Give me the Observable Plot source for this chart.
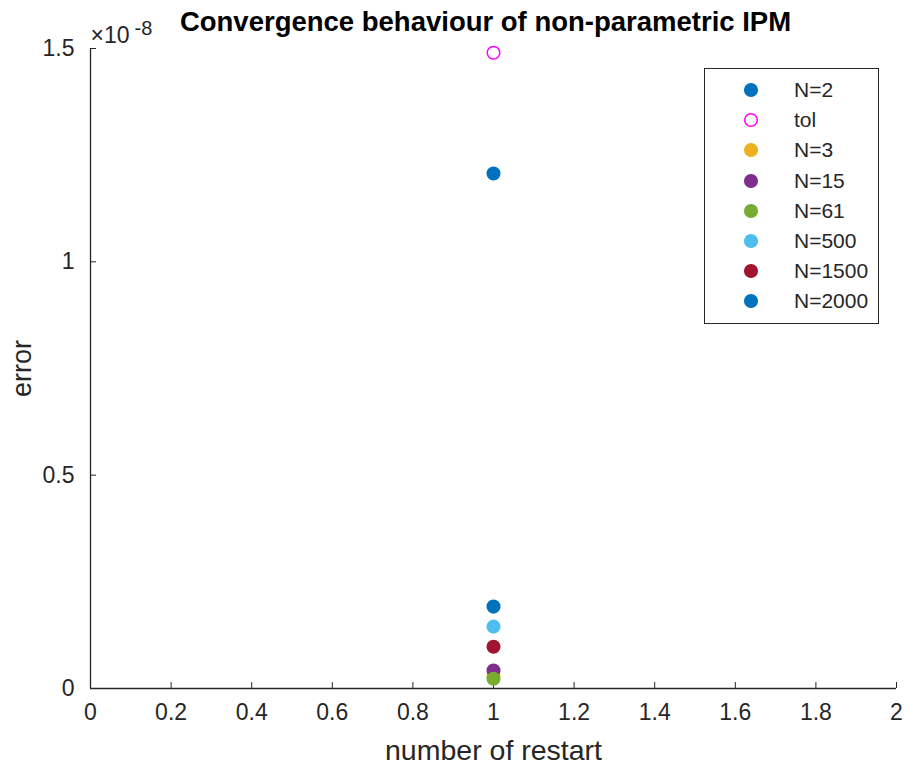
<!DOCTYPE html>
<html>
<head>
<meta charset="utf-8">
<script src="https://cdn.jsdelivr.net/npm/d3@7"></script>
<script src="https://cdn.jsdelivr.net/npm/@observablehq/plot@0.6"></script>
<style>
  html, body { margin: 0; padding: 0; background: #fff; }
  #wrap { position: relative; width: 909px; height: 764px; font-family: "Liberation Sans", Arial, sans-serif; }
  #legend { position: absolute; left: 704px; top: 68px; width: 173px; height: 248px; border: 1px solid #262626; background: #fff; box-sizing: content-box; padding-top: 6px; }
  .row { position: relative; height: 30.2px; }
  .row svg { position: absolute; left: 38px; top: 7px; }
  .row span { position: absolute; left: 89px; top: 4px; font-size: 21px; color: #262626; line-height: 22px; }
</style>
</head>
<body>
<div id="wrap"></div>
<script>
// ---- data ----
const series   = ["N=2", "tol", "N=3", "N=15", "N=61", "N=500", "N=1500", "N=2000"];
const restarts = [1, 1, 1, 1, 1, 1, 1, 1];
const errors   = [1.207e-8, 1.49e-8, 0.030e-8, 0.042e-8, 0.023e-8, 0.145e-8, 0.098e-8, 0.192e-8];
const colors   = ["#0072BD", "#FF00FF", "#EDB120", "#7E2F8E", "#77AC30", "#4DBEEE", "#A2142F", "#0072BD"];
const filled   = [true, false, true, true, true, true, true, true];
const xTicks = [0, 0.2, 0.4, 0.6, 0.8, 1, 1.2, 1.4, 1.6, 1.8, 2];
const yTicks = [0, 0.5e-8, 1e-8, 1.5e-8];
const yTickLabels = ["0", "0.5", "1", "1.5"];
const title = "Convergence behaviour of non-parametric IPM";
const xLabel = "number of restart";
const yLabel = "error";

const data = series.map((s, i) => ({s, x: restarts[i], y: errors[i], c: colors[i], f: filled[i]}));
const ink = "#262626";

const chart = Plot.plot({
  width: 909,
  height: 764,
  marginLeft: 90,
  marginRight: 13,
  marginTop: 48,
  marginBottom: 76,
  style: {fontFamily: "Liberation Sans, Arial, sans-serif", color: ink, background: "white", overflow: "visible"},
  x: {domain: [0, 2]},
  y: {domain: [0, 1.5e-8]},
  marks: [
    Plot.axisX(xTicks, {tickSize: -6, tickPadding: 21, fontSize: 23, tickFormat: d => String(d), label: null, stroke: ink, fill: ink}),
    Plot.axisY(yTicks, {tickSize: -6, tickPadding: 22, fontSize: 23, tickFormat: d => yTickLabels[yTicks.indexOf(d)], label: null, stroke: ink, fill: ink}),
    Plot.ruleY([0], {stroke: ink, strokeWidth: 1.3}),
    Plot.ruleX([0], {stroke: ink, strokeWidth: 1.3}),
    Plot.dot(data, {x: "x", y: "y", r: 6.3, fill: d => d.f ? d.c : "none", stroke: d => d.c, strokeWidth: 1.5}),
    Plot.text([xLabel], {frameAnchor: "bottom", lineAnchor: "middle", dy: 62, fontSize: 28.5, fill: ink}),
    Plot.text([yLabel], {frameAnchor: "left", textAnchor: "middle", lineAnchor: "middle", rotate: -90, dx: -68, fontSize: 27, fill: ink}),
    Plot.text([title], {frameAnchor: "top", lineAnchor: "middle", dx: -8, dy: -26, fontSize: 27.5, fontWeight: "bold", fill: "#000"}),
    Plot.text(["\u00d710"], {frameAnchor: "top-left", textAnchor: "start", lineAnchor: "middle", dx: 0, dy: -13, fontSize: 23, fill: ink}),
    Plot.text(["-8"], {frameAnchor: "top-left", textAnchor: "start", lineAnchor: "middle", dx: 44, dy: -20, fontSize: 20, fill: ink})
  ]
});
document.getElementById("wrap").appendChild(chart);

// legend
const legend = document.createElement("div");
legend.id = "legend";
series.forEach((s, i) => {
  const row = document.createElement("div");
  row.className = "row";
  const fill = filled[i] ? colors[i] : "none";
  row.innerHTML = `<svg width="16" height="16"><circle cx="8" cy="8" r="6.3" fill="${fill}" stroke="${colors[i]}" stroke-width="1.5"/></svg><span>${s}</span>`;
  legend.appendChild(row);
});
document.getElementById("wrap").appendChild(legend);
</script>
</body>
</html>
